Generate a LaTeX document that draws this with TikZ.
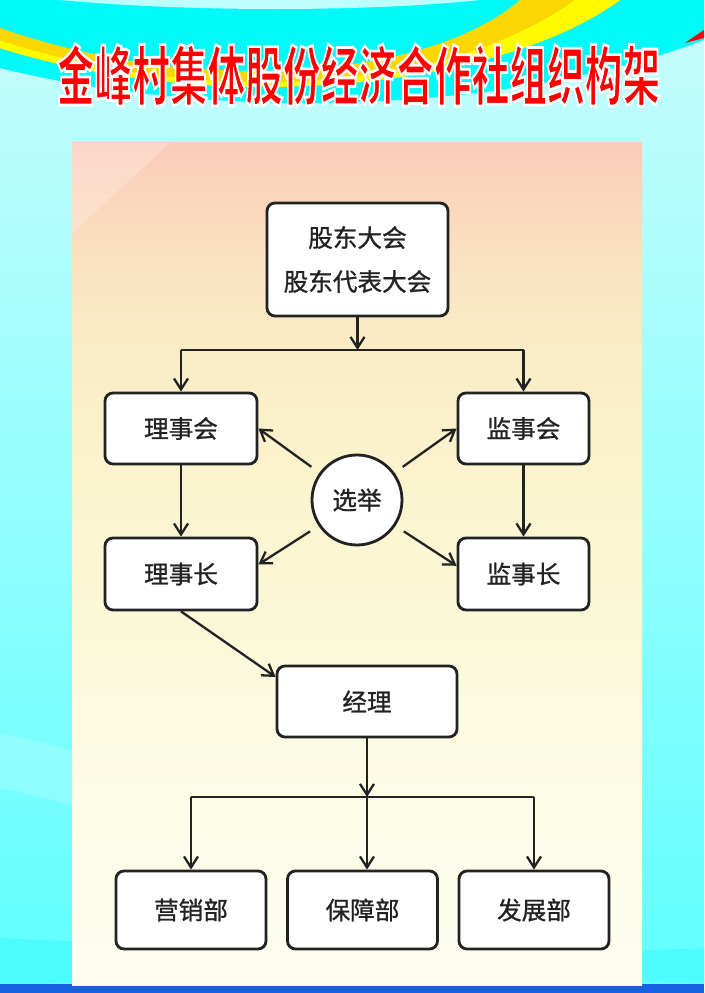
\documentclass[tikz,border=0pt]{standalone}
\usepackage{fontspec}
\setmainfont{Noto Sans CJK SC}[FakeBold=1]
\newfontfamily\titlefont{Noto Sans CJK SC}
\usepackage{graphicx}
\usepackage{tikz}
\usetikzlibrary{arrows.meta}

\definecolor{skylight}{RGB}{200,252,252}
\definecolor{skydeep}{RGB}{95,255,255}
\definecolor{aqua}{RGB}{0,250,250}
\definecolor{gold}{RGB}{250,215,0}
\definecolor{lemon}{RGB}{255,250,0}
\definecolor{ink}{RGB}{34,34,34}
\definecolor{royal}{RGB}{25,95,225}

% path spans 25bp..75bp of the shading
\pgfdeclareverticalshading{panelfade}{100bp}{
  rgb(0bp)=(0.995,0.995,0.94);
  rgb(25bp)=(0.995,0.995,0.94);
  rgb(39bp)=(0.99,0.985,0.89);
  rgb(48bp)=(0.985,0.97,0.84);
  rgb(57bp)=(0.98,0.95,0.80);
  rgb(64bp)=(0.98,0.92,0.77);
  rgb(68.5bp)=(0.98,0.88,0.75);
  rgb(75bp)=(0.98,0.80,0.73);
  rgb(100bp)=(0.98,0.80,0.73)}

\tikzset{
  dept/.style={draw=ink, line width=1.6pt, fill=white, rounded corners=0.16cm,
    inner sep=0pt, text=ink},
  vote/.style={draw=ink, line width=1.6pt, fill=white, circle, inner sep=0pt,
    minimum size=1.8cm, text=ink},
  link/.style={draw=ink, line width=1.3pt, -{Straight Barb[length=2.2mm,width=2.8mm]}},
  bus/.style={draw=ink, line width=1.3pt}
}

\begin{document}
\begin{tikzpicture}[scale=1, font=\fontsize{14}{25}\selectfont]

% background
\useasboundingbox (0,0) rectangle (14.08,19.86);
\shade[top color=skylight, bottom color=skydeep] (0,0) rectangle (14.08,19.86);
\fill[aqua] (0,19.86) -- (14.08,19.86) -- (14.08,19.06)
  .. controls (10.4,17.66) and (4.6,17.36) .. (0,18.5) -- cycle;
\fill[gold] (0,19.3) .. controls (4,17.9) and (8.6,18.3) .. (10.4,19.86)
  -- (12.4,19.86) .. controls (10,18.1) and (4.4,17.5) .. (0,18.9) -- cycle;
\fill[lemon] (0,19.05) .. controls (4.2,17.7) and (8.9,18) .. (11.5,19.86)
  -- (12.4,19.86) .. controls (10,18.1) and (4.4,17.5) .. (0,18.9) -- cycle;
\fill[white!75!aqua] (1.2,19.86) .. controls (4,19.6) and (7.6,19.64) .. (9.6,19.86) -- cycle;
\fill[red] (13.7,19.0) -- (14.08,19.26) -- (14.08,19.1) -- cycle;
\fill[white, opacity=0.18] (0,5.2) .. controls (3,4.6) and (5,3.4) .. (6,2) -- (6,0.8)
  .. controls (4.6,2.6) and (2.6,3.6) .. (0,4.1) -- cycle;
\fill[aqua!70!white] (0,0.15) .. controls (4,0.35) and (10,0.35) .. (14.08,0.2)
  -- (14.08,0.9) .. controls (10,0.7) and (4,0.9) .. (0,1.1) -- cycle;
\fill[royal] (0,0) rectangle (14.08,0.17);

% panel
\shade[shading=panelfade] (1.44,0.14) rectangle (12.84,17.0);
\fill[white, opacity=0.22] (1.44,17.0) -- (3.4,17.0) -- (1.44,15.2) -- cycle;

% title
\node (title) at (7.17,18.36) {\scalebox{0.58}[1]{\titlefont\fontsize{37}{37}\selectfont\bfseries\color{red}%
  \special{pdf:literal direct 1 1 1 RG 2 Tr 1.6 w}金峰村集体股份经济合作社组织构架\special{pdf:literal direct 0 Tr}}};

% boxes
\node[dept, minimum width=3.62cm, minimum height=2.26cm, align=center] (gd) at (7.15,14.67) {股东大会\\股东代表大会};
\node[dept, minimum width=3.04cm, minimum height=1.42cm] (lsh) at (3.62,11.29) {理事会};
\node[dept, minimum width=2.62cm, minimum height=1.42cm] (jsh) at (10.47,11.29) {监事会};
\node[vote] (xj) at (7.14,9.86) {选举};
\node[dept, minimum width=3.04cm, minimum height=1.44cm] (lsz) at (3.62,8.38) {理事长};
\node[dept, minimum width=2.62cm, minimum height=1.44cm] (jsz) at (10.47,8.38) {监事长};
\node[dept, minimum width=3.6cm, minimum height=1.42cm] (jl) at (7.34,5.83) {经理};
\node[dept, minimum width=3cm, minimum height=1.56cm] (yx) at (3.82,1.66) {营销部};
\node[dept, minimum width=3cm, minimum height=1.56cm] (bz) at (7.25,1.66) {保障部};
\node[dept, minimum width=3cm, minimum height=1.56cm] (fz) at (10.68,1.66) {发展部};

% top bus
\coordinate (b1) at (7.15,12.86);
\draw[link] (gd.south) -- (b1);
\draw[bus] (lsh.north |- b1) -- (jsh.north |- b1);
\draw[link] (lsh.north |- b1) -- (lsh.north);
\draw[link] (jsh.north |- b1) -- (jsh.north);

% chains
\draw[link] (lsh) -- (lsz);
\draw[link] (jsh) -- (jsz);

% election
\draw[link, shorten <=0.2cm] (xj.144) -- (lsh.east);
\draw[link, shorten <=0.2cm] (xj.214) -- (lsz.7);
\draw[link, shorten <=0.2cm] (xj.36) -- (jsh.west);
\draw[link, shorten <=0.2cm] (xj.326) -- (jsz.173);

% manager
\draw[link] (lsz.south) -- (jl.165);
\coordinate (b2) at (7.34,3.92);
\draw[link] (jl.south) -- (b2);
\draw[bus] (yx.north |- b2) -- (fz.north |- b2);
\draw[link] (yx.north |- b2) -- (yx.north);
\draw[link] (b2) -- (b2 |- bz.north);
\draw[link] (fz.north |- b2) -- (fz.north);

\end{tikzpicture}
\end{document}
